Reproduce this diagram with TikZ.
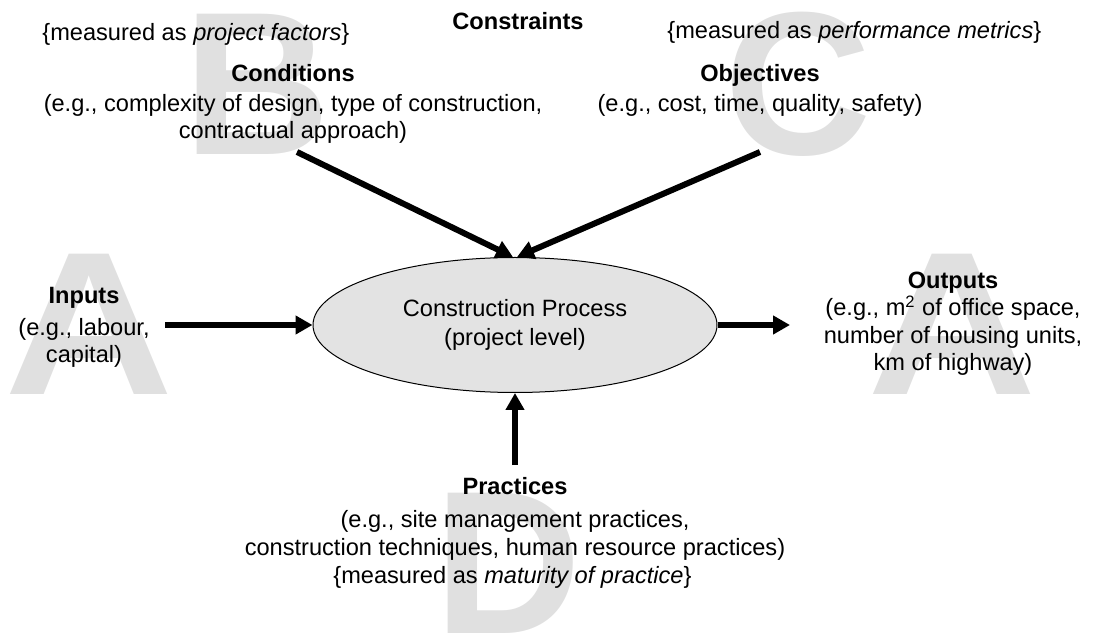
\documentclass[tikz,border=0pt]{standalone}
\usepackage{fontspec}
\setmainfont{Liberation Sans}
\usetikzlibrary{shapes.geometric,arrows.meta}
\definecolor{lettergray}{HTML}{E0E0E0}
\definecolor{procgray}{HTML}{E3E3E3}

\begin{document}
\begin{tikzpicture}[x=0.5pt,y=-0.5pt,
  bigletter/.style={text=lettergray,inner sep=0pt,anchor=base,font=\bfseries\fontsize{102}{102}\selectfont},
  txt/.style={align=center,inner sep=0pt,anchor=base,font=\fontsize{11.8}{13.75}\selectfont},
  thickarrow/.style={line width=3pt,-{Triangle[length=8.5pt,width=9pt]}}]
  \useasboundingbox (0,0) rectangle (1096,635);
  % background letters
  \foreach \ltr/\xx/\yy/\sx/\nm in {A/89/395/1.15/bgA,B/257/155/1/bgB,C/798/155/1/bgC,D/508/633/1/bgD,A/952/395/1.15/bgE}
	{
	\node[bigletter,xscale=\sx] (\nm) at (\xx,\yy) {\ltr};
	}
  \node[txt] (constr) at (518,30) {\textbf{Constraints}};
  \node[txt,anchor=base west] (measB) at (42,41) {\{measured as \textit{project factors}\}};
  \node[txt,anchor=base west] (measC) at (667,39) {\{measured as \textit{performance metrics}\}};
  \node[txt] (cond) at (293,139) {\textbf{Conditions}\\[1.25pt]
    (e.g., complexity of design, type of construction,\\
    contractual approach)};
  \node[txt] (obj) at (760,112) {\textbf{Objectives}\\[1.25pt]
    (e.g., cost, time, quality, safety)};
  \node[txt] (inputs) at (84,363) {\textbf{Inputs}\\[2pt]
    (e.g., labour,\\ capital)};
  \node[txt] (outputs) at (953,371) {\textbf{Outputs}\\
    (e.g., m\textsuperscript{2} of office space,\\
    number of housing units,\\ km of highway)};
  \node[txt] (prax) at (515,555) {\textbf{Practices}\\[3pt]
    (e.g., site management practices,\\
    construction techniques, human resource practices)};
  \node[txt,anchor=base west] (measD) at (333,583) {\{measured as \textit{maturity of practice}\}};
  \node[draw,ellipse,fill=procgray,line width=0.5pt,minimum width=202pt,minimum height=67.5pt,
    inner sep=0pt,align=center,font=\fontsize{11.8}{14.5}\selectfont] (proc) at (515,325)
    {Construction Process\\ (project level)};
  \coordinate (condtail) at (297,152);
  \coordinate (objtail) at (760,152);
  \coordinate (intail) at (165,325);
  \coordinate (outtip) at (790,325);
  \coordinate (praxtail) at (515,465);
  \draw[thickarrow] (condtail) -- ([xshift=-1pt]proc.north);
  \draw[thickarrow] (objtail) -- ([xshift=1pt]proc.north);
  \draw[thickarrow] (intail) -- (proc.west);
  \draw[thickarrow] (proc.east) -- (outtip);
  \draw[thickarrow] (praxtail) -- (proc.south);
\end{tikzpicture}
\end{document}
